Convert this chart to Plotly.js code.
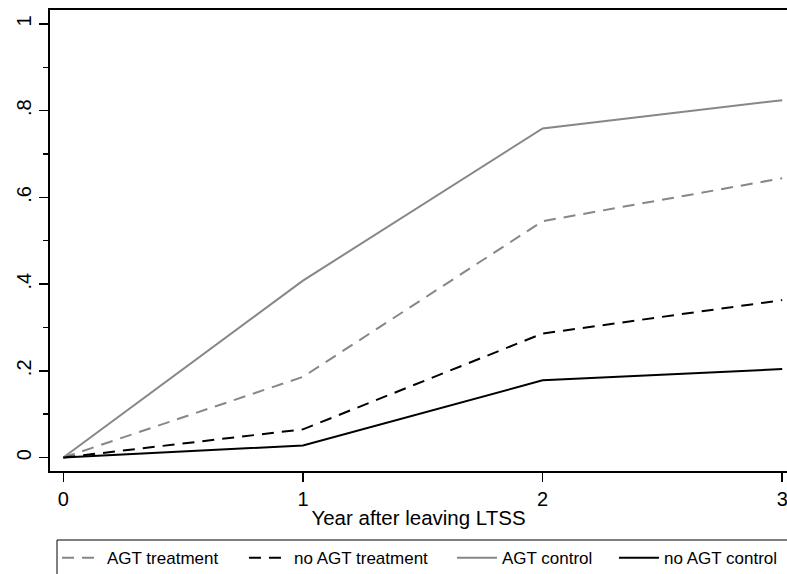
<!DOCTYPE html>
<html>
<head>
<meta charset="utf-8">
<script src="https://cdn.plot.ly/plotly-3.0.1.min.js"></script>
<style>html,body{margin:0;padding:0;background:#fff;}#chart{width:787px;height:574px;}</style>
</head>
<body>
<div id="chart"></div>
<script>
const years = [0, 1, 2, 3];
const agtTreatment = [0, 0.186, 0.545, 0.644];
const noAgtTreatment = [0, 0.065, 0.286, 0.363];
const agtControl = [0, 0.408, 0.759, 0.824];
const noAgtControl = [0, 0.028, 0.178, 0.204];
const seriesNames = ["AGT treatment", "no AGT treatment", "AGT control", "no AGT control"];
const yTickVals = [0, 0.2, 0.4, 0.6, 0.8, 1];
const yTickText = ["0", ".2", ".4", ".6", ".8", "1"];
const xTickVals = [0, 1, 2, 3];
const xTitle = "Year after leaving LTSS";

const gray = "#878787";
const traces = [
  {x: years, y: agtTreatment, name: seriesNames[0], legend: "legend", mode: "lines", line: {color: gray, width: 2, dash: "12px,8px"}},
  {x: years, y: noAgtTreatment, name: seriesNames[1], legend: "legend2", mode: "lines", line: {color: "#000", width: 2, dash: "12px,8px"}},
  {x: years, y: agtControl, name: seriesNames[2], legend: "legend3", mode: "lines", line: {color: gray, width: 2}},
  {x: years, y: noAgtControl, name: seriesNames[3], legend: "legend4", mode: "lines", line: {color: "#000", width: 2}}
];

const font = {family: "Liberation Sans, Arial, sans-serif", color: "#000"};
function legendAt(xpos) {
  return {
    orientation: "h", x: xpos, xanchor: "left", y: -0.15, yanchor: "top",
    borderwidth: 0, bgcolor: "rgba(0,0,0,0)",
    font: {family: font.family, size: 17, color: "#000"},
    itemwidth: 40
  };
}
const layout = {
  width: 787, height: 574,
  margin: {l: 50, r: 0, t: 10, b: 103, autoexpand: false},
  paper_bgcolor: "#fff", plot_bgcolor: "#fff",
  font: font,
  showlegend: true,
  legend: legendAt(0.0095),
  legend2: legendAt(0.2632),
  legend3: legendAt(0.5454),
  legend4: legendAt(0.7652),
  shapes: [
    {type: "rect", xref: "paper", yref: "paper", x0: 0.0095, x1: 1.05, y0: -0.1497, y1: -0.35,
     line: {color: "#000", width: 1}, fillcolor: "rgba(0,0,0,0)", layer: "above"}
  ],
  xaxis: {
    range: [-0.0555, 3.02], tickvals: xTickVals, ticktext: xTickVals.map(String),
    ticks: "outside", ticklen: 9, tickwidth: 1.5, tickcolor: "#000",
    ticklabeloverflow: "allow",
    showline: true, linecolor: "#000", linewidth: 1.6, mirror: true,
    showgrid: false, zeroline: false,
    tickfont: {family: font.family, size: 20, color: "#000"},
    title: {text: xTitle, font: {family: font.family, size: 20.5, color: "#000"}, standoff: 2}
  },
  yaxis: {
    range: [-0.031, 1.032], tickvals: yTickVals, ticktext: yTickText, tickangle: -90,
    ticks: "outside", ticklen: 9, tickwidth: 1.5, tickcolor: "#000",
    minor: {dtick: 0.1, tick0: 0, ticks: "outside", ticklen: 5, tickwidth: 1.5, tickcolor: "#000", showgrid: false},
    showline: true, linecolor: "#000", linewidth: 1.6,
    showgrid: false, zeroline: false,
    tickfont: {family: font.family, size: 20, color: "#000"}
  }
};
Plotly.newPlot("chart", traces, layout, {staticPlot: true, displayModeBar: false});
</script>
</body>
</html>
